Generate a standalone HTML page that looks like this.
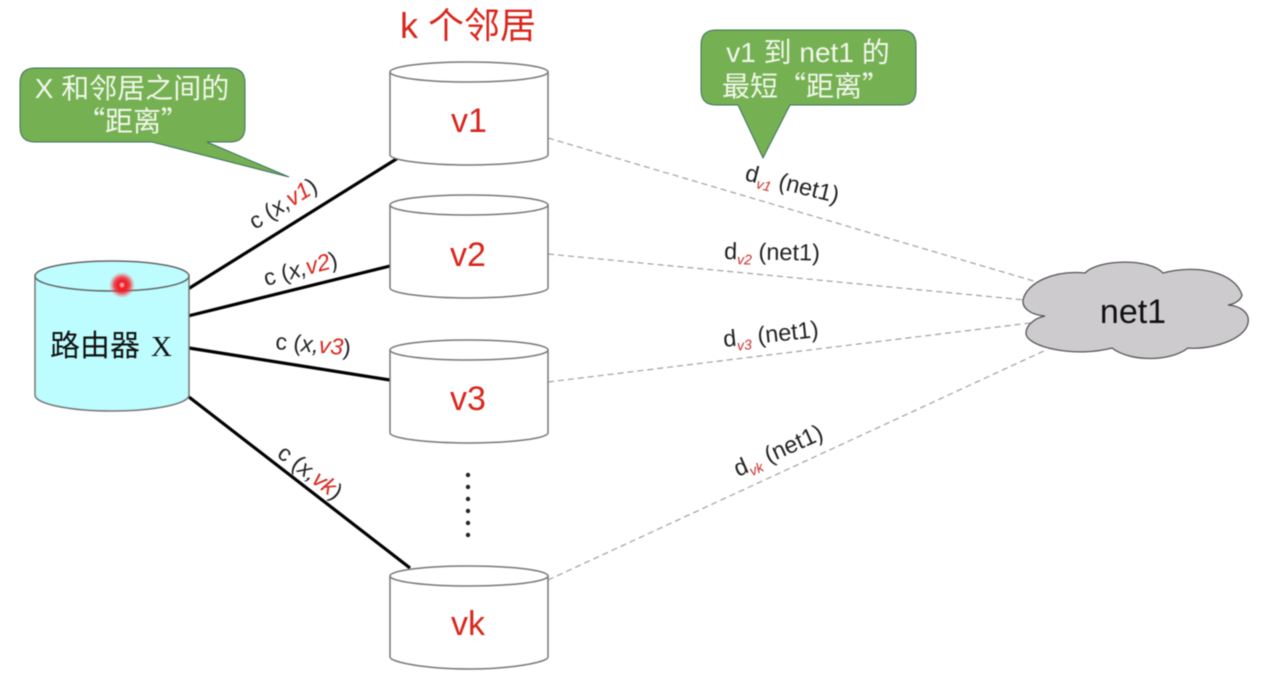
<!DOCTYPE html>
<html><head><meta charset="utf-8"><style>
html,body{margin:0;padding:0;background:#fff;width:1269px;height:674px;overflow:hidden}
svg{display:block;filter:blur(.45px)}
text{font-family:"Liberation Sans","Noto Sans CJK SC",sans-serif}
.r{fill:#d8261c}
.lab{font-size:23px;fill:#222}
.dl{font-size:23.5px;fill:#222}
.sub{font-size:14px;fill:#c8302a;font-style:italic}
.w{font-size:28px;fill:#f2f6ec;text-anchor:middle}
.wc{font-size:28px;fill:#f2f6ec;text-anchor:middle;font-family:"Noto Sans CJK SC",sans-serif}
.big{font-size:34px;fill:#d8261c;text-anchor:middle}
.cyl{fill:#fff;stroke:#777;stroke-width:1.5}
</style></head><body>
<svg width="1269" height="674" viewBox="0 0 1269 674" xmlns="http://www.w3.org/2000/svg">
<defs>
<radialGradient id="g"><stop offset="0" stop-color="#ffe0e0"/><stop offset=".28" stop-color="#f5101c"/><stop offset=".6" stop-color="#f5202a" stop-opacity=".8"/><stop offset="1" stop-color="#f55" stop-opacity="0"/></radialGradient>
</defs>
<g stroke="#a0a0a0" stroke-width="1.2" stroke-dasharray="6 4" fill="none">
<path d="M548 138L1037 282"/><path d="M548 254L1025 300"/><path d="M548 382L1030 323"/><path d="M548 580L1046 350"/>
</g>
<g stroke="#000" stroke-width="3.2" fill="none">
<path d="M188 289L398 158"/><path d="M188 316L390 266"/><path d="M189 348L390 380"/><path d="M189 397L410 568"/>
</g>
<!-- router -->
<path d="M35 276V395C35 404 70 411 112 411S189 404 189 395V276Z" fill="#bdfdff" stroke="#777" stroke-width="1.5"/>
<ellipse cx="112" cy="276" rx="77" ry="15" fill="#bdfdff" stroke="#666" stroke-width="1.5"/>
<circle cx="122" cy="285" r="13" fill="url(#g)"/>
<text x="50" y="356" font-size="30" fill="#111">路由器</text>
<text x="151" y="356" font-size="29" fill="#111" style="font-family:'Liberation Serif',serif">X</text>
<!-- neighbours -->
<g id="cyls">
<path class="cyl" d="M390 72V155C390 160 425 165 469 165S548 160 548 155V72"/><ellipse class="cyl" cx="469" cy="72" rx="79" ry="10"/>
<path class="cyl" d="M390 205V288C390 293 425 298 469 298S548 293 548 288V205"/><ellipse class="cyl" cx="469" cy="205" rx="79" ry="10"/>
<path class="cyl" d="M390 350V433C390 438 425 443 469 443S548 438 548 433V350"/><ellipse class="cyl" cx="469" cy="350" rx="79" ry="10"/>
<path class="cyl" d="M390 576V657C390 662 425 669 469 669S548 662 548 657V576"/><ellipse class="cyl" cx="469" cy="576" rx="79" ry="10"/>
</g>
<text x="469" y="132" class="big">v1</text>
<text x="468" y="266" class="big">v2</text>
<text x="468" y="410" class="big">v3</text>
<text x="468" y="635" class="big">vk</text>
<text x="468" y="38" font-size="36" class="r" text-anchor="middle">k 个邻居</text>
<g fill="#222"><circle cx="468" cy="475" r="2.2"/><circle cx="468" cy="487" r="2.2"/><circle cx="468" cy="499" r="2.2"/><circle cx="468" cy="511" r="2.2"/><circle cx="468" cy="523" r="2.2"/><circle cx="468" cy="535" r="2.2"/></g>
<!-- callouts -->
<path d="M35 68H230Q245 68 245 83V127Q245 142 230 142H207L289 177L152 142H35Q20 142 20 127V83Q20 68 35 68Z" fill="#75b152" stroke="#3f6f62" stroke-width="1"/>
<text x="132" y="98" class="w">X 和邻居之间的</text>
<text x="133" y="131" class="wc">“距离”</text>
<path d="M716 30H901Q916 30 916 45V90Q916 105 901 105H790L763 158L738 105H716Q701 105 701 90V45Q701 30 716 30Z" fill="#75b152" stroke="#3f6f62" stroke-width="1"/>
<text x="808" y="62" class="w">v1 到 net1 的</text>
<text x="806" y="96" class="wc">最短“距离”</text>
<!-- c labels -->
<text class="lab" transform="translate(255 230) rotate(-32)">c (<tspan font-style="italic">x,</tspan><tspan fill="#d8261c" font-style="italic">v1</tspan>)</text>
<text class="lab" transform="translate(266 286) rotate(-15)">c (<tspan font-style="italic">x,</tspan><tspan fill="#d8261c" font-style="italic">v2</tspan>)</text>
<text class="lab" transform="translate(275 349) rotate(5)">c (<tspan font-style="italic">x,</tspan><tspan fill="#d8261c" font-style="italic">v3</tspan>)</text>
<text class="lab" transform="translate(276 456) rotate(37)">c (<tspan font-style="italic">x,</tspan><tspan fill="#d8261c" font-style="italic">vk</tspan>)</text>
<!-- d labels -->
<text class="dl" transform="translate(744 180) rotate(14)">d<tspan class="sub" dy="5">v1</tspan><tspan dy="-5"> (net1)</tspan></text>
<text class="dl" transform="translate(724 259) rotate(1)">d<tspan class="sub" dy="5">v2</tspan><tspan dy="-5"> (net1)</tspan></text>
<text class="dl" transform="translate(724 347) rotate(-6)">d<tspan class="sub" dy="5">v3</tspan><tspan dy="-5"> (net1)</tspan></text>
<text class="dl" transform="translate(738 477) rotate(-24)">d<tspan class="sub" dy="5">vk</tspan><tspan dy="-5"> (net1)</tspan></text>
<!-- cloud -->
<path d="M1085 273C1098 259 1150 258 1163 273C1197 264 1235 272 1242 295C1241 300 1235 304 1228 305C1241 306 1250 313 1248 323C1245 340 1210 350 1188 348C1170 362 1130 362 1112 348C1075 358 1026 347 1026 333C1026 325 1035 318 1045 316C1032 315 1022 309 1023 300C1027 282 1055 270 1085 273Z" fill="#cdcbce" stroke="#555" stroke-width="1.3"/>
<text x="1133" y="323" font-size="34" fill="#111" text-anchor="middle">net1</text>
</svg>
</body></html>
